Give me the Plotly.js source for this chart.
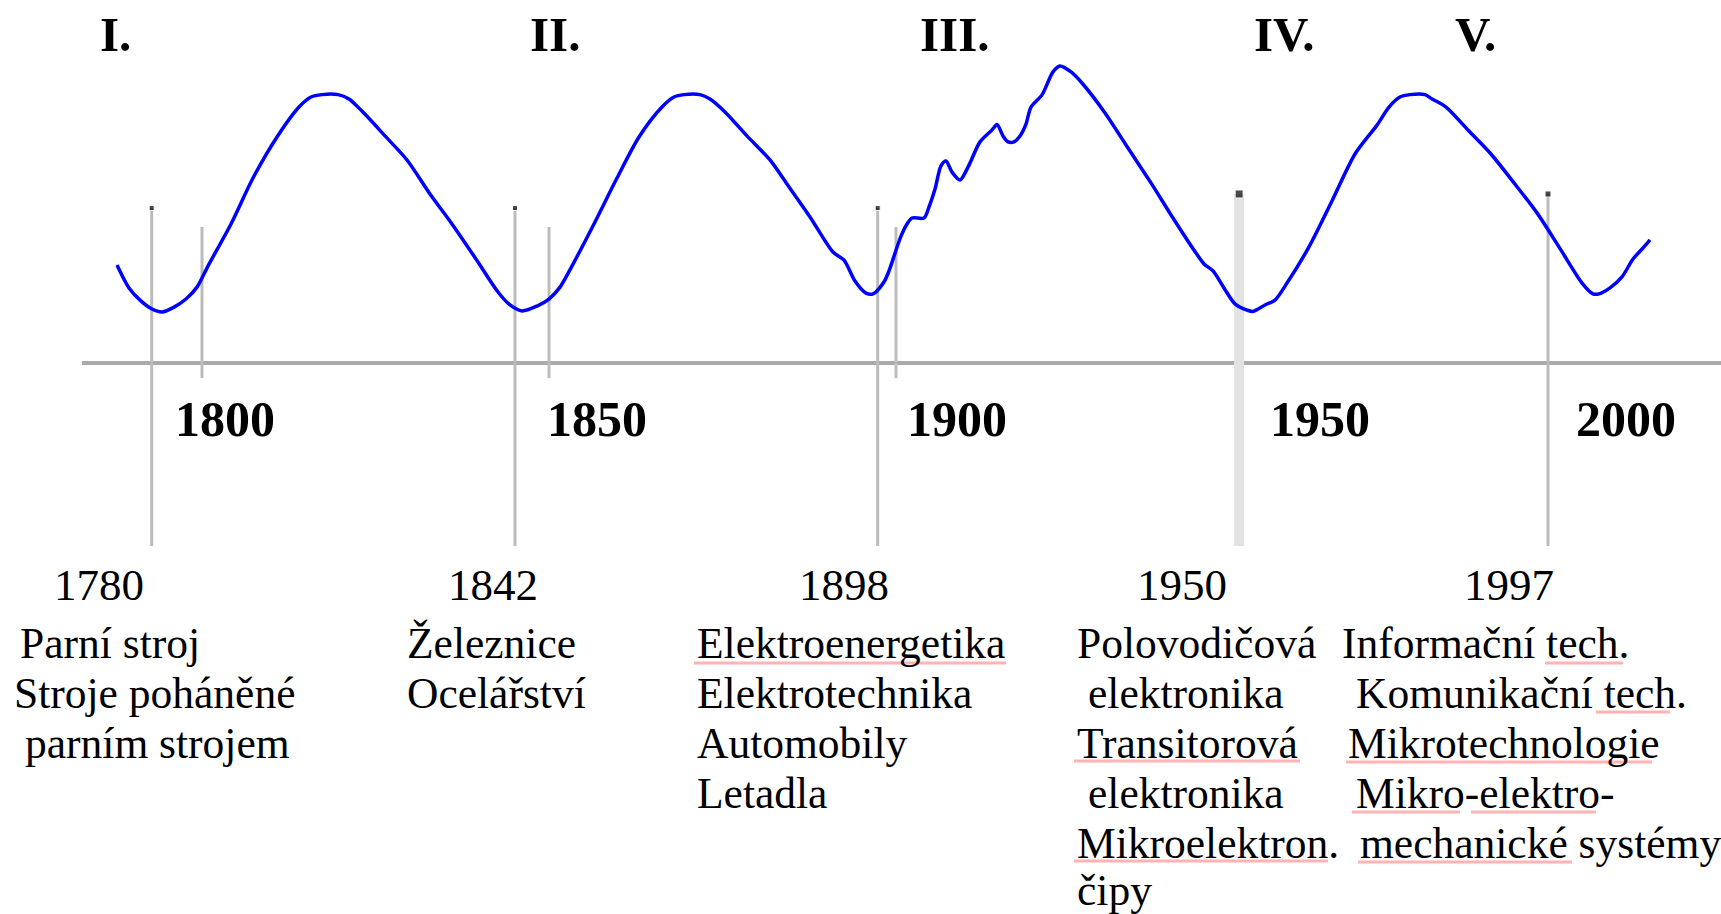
<!DOCTYPE html>
<html><head><meta charset="utf-8">
<script src="https://cdn.plot.ly/plotly-3.0.1.min.js"></script>
<style>html,body{margin:0;padding:0;background:#fff;overflow:hidden}</style>
</head><body><div id="chart" style="width:1721px;height:914px"></div>
<script>
// ---- data (schematic Kondratiev waves; x = year position on the drawing, y = activity level) ----
const waveYear = [1787.75,1789.48,1791.07,1792.80,1794.24,1795.97,1797.69,1799.28,1800.86,1804.18,1807.35,1810.81,1813.98,1815.71,1817.29,1819.60,1821.18,1823.05,1826.37,1829.54,1832.85,1836.02,1839.48,1842.65,1844.38,1846.11,1848.27,1850.00,1851.59,1853.31,1856.48,1859.80,1862.97,1866.28,1868.01,1869.45,1871.76,1873.20,1875.36,1878.53,1881.84,1884.29,1887.61,1890.92,1892.51,1894.09,1895.68,1896.69,1898.27,1898.99,1899.86,1900.72,1901.59,1902.31,1904.03,1904.76,1905.62,1906.48,1907.20,1908.07,1909.22,1910.52,1912.10,1913.83,1914.55,1915.42,1916.14,1917.00,1917.87,1918.73,1919.45,1921.04,1922.62,1923.63,1925.22,1926.80,1930.12,1933.43,1936.74,1939.91,1943.23,1944.38,1945.68,1947.26,1948.85,1950.58,1951.44,1953.17,1954.61,1956.34,1959.51,1962.82,1966.14,1969.31,1971.04,1972.62,1974.06,1976.22,1977.23,1979.25,1982.56,1985.73,1989.05,1992.36,1995.53,1998.85,2000.43,2001.30,2002.88,2004.61,2006.20,2007.78,2008.65];
const waveLevel = [3.63,2.78,2.33,2.00,1.89,2.07,2.37,2.81,3.59,5.15,6.85,8.37,9.48,9.85,9.94,9.94,9.78,9.33,8.41,7.52,6.26,5.15,3.85,2.63,2.15,1.93,2.11,2.37,2.81,3.59,5.15,6.85,8.37,9.48,9.85,9.94,9.94,9.78,9.30,8.41,7.52,6.63,5.41,4.11,3.81,3.04,2.59,2.56,3.00,3.41,4.07,4.70,5.15,5.37,5.37,5.78,6.44,7.30,7.48,7.07,6.78,7.33,8.19,8.63,8.83,8.41,8.19,8.19,8.41,8.85,9.48,9.93,10.78,11.00,10.78,10.37,9.26,7.96,6.67,5.37,4.07,3.67,3.41,2.78,2.19,1.96,1.91,2.15,2.33,2.96,4.30,6.00,7.74,8.81,9.48,9.85,9.94,9.94,9.78,9.48,8.59,7.74,6.67,5.56,4.30,2.96,2.56,2.56,2.78,3.19,3.85,4.30,4.56];

const axisYears = ['1800', '1850', '1900', '1950', '2000'];
const tickMarkYears = [1800, 1850, 1900];
const waveNumerals = ['I.', 'II.', 'III.', 'IV.', 'V.'];
const eventYears = ['1780', '1842', '1898', '1950', '1997'];
const eventLinePos = [1792.75, 1845.10, 1897.36, 1949.44, 1993.95];
const eventLineTop = [5.74, 5.74, 5.74, 6.26, 6.26];
const eventLineBottom = -6.78;
const tickTop = 5.04, tickBottom = -0.56;
const baselineStart = 1782.7;
const eventInnovations = [
  ['Parní stroj', 'Stroje poháněné', 'parním strojem'],
  ['Železnice', 'Ocelářství'],
  ['Elektroenergetika', 'Elektrotechnika', 'Automobily', 'Letadla'],
  ['Polovodičová', 'elektronika', 'Transitorová', 'elektronika', 'Mikroelektron.', 'čipy'],
  ['Informační tech.', 'Komunikační tech.', 'Mikrotechnologie', 'Mikro-elektro-', 'mechanické systémy']
];

// ---- layout helpers (page pixels -> paper fractions) ----
const W = 1721, H = 914;
const PX = x => x / W, PY = y => 1 - y / H;
const axisLabelX = [225, 597, 957, 1320, 1626];
const axisLabelY = 419;
const numeralX = [115, 555, 955, 1284, 1475];
const numeralY = 35;
const eventYearX = [99, 493, 844, 1182, 1509];
const eventYearY = 585;
const lineLeft = [[19,13,24],[406,406],[696,696,696,696],[1076,1087,1076,1087,1076,1076],[1341,1355,1347,1355,1359]];
const rowY = [643, 693, 743, 793, 843, 890];
const underlines = [[694,1006,663],[1074,1300,761],[1074,1328,861],[1545,1623,663],[1596,1670,712],[1346,1652,762],[1352,1460,812],[1471,1596,812],[1358,1572,862]];

const SERIF = '"Liberation Serif", "Times New Roman", serif';
const traces = [];

// short year tick marks
tickMarkYears.forEach(y => traces.push({x:[y,y], y:[tickBottom,tickTop], mode:'lines', line:{color:'#bcbcbc', width:3}, hoverinfo:'skip', showlegend:false}));
// event lines
eventLinePos.forEach((p,i) => {
  const light = i === 3;
  traces.push({x:[p,p], y:[eventLineBottom, eventLineTop[i]], mode:'lines',
    line:{color: light ? '#e2e2e2' : '#bcbcbc', width: light ? 10 : 3}, hoverinfo:'skip', showlegend:false});
});
// wave
traces.push({x: waveYear, y: waveLevel, mode:'lines', line:{color:'#0000ff', width:3.5, shape:'spline', smoothing:0.8}, hoverinfo:'skip', showlegend:false});
// event tips
traces.push({x: eventLinePos, y: eventLineTop, mode:'markers', marker:{symbol:'square', size:[5,5,5,8,6], color:'#000'}, hoverinfo:'skip', showlegend:false});

const annotations = [];
axisYears.forEach((t,i) => annotations.push({text:t, x:PX(axisLabelX[i]), y:PY(axisLabelY), xref:'paper', yref:'paper', xanchor:'center', yanchor:'middle', showarrow:false, font:{family:SERIF, size:50, color:'#000', weight:'bold'}}));
waveNumerals.forEach((t,i) => annotations.push({text:t, x:PX(numeralX[i]), y:PY(numeralY), xref:'paper', yref:'paper', xanchor:'center', yanchor:'middle', showarrow:false, font:{family:SERIF, size:49, color:'#000', weight:'bold'}}));
eventYears.forEach((t,i) => annotations.push({text:t, x:PX(eventYearX[i]), y:PY(eventYearY), xref:'paper', yref:'paper', xanchor:'center', yanchor:'middle', showarrow:false, font:{family:SERIF, size:45, color:'#000'}}));
eventInnovations.forEach((lines,i) => lines.forEach((t,j) => annotations.push({text:t, x:PX(lineLeft[i][j]), y:PY(rowY[j]), xref:'paper', yref:'paper', xanchor:'left', yanchor:'middle', showarrow:false, borderpad:0, font:{family:SERIF, size:43.5, color:'#000'}})));

const shapes = [
  {type:'line', xref:'x', yref:'y', x0:baselineStart, x1:2025, y0:0, y1:0, line:{color:'#aaaaaa', width:4}, layer:'below'}
];
underlines.forEach(u => shapes.push({type:'line', xref:'paper', yref:'paper', x0:PX(u[0]), x1:PX(u[1]), y0:PY(u[2]), y1:PY(u[2]), line:{color:'#ffb3b3', width:3}}));

const layout = {
  width: W, height: H, autosize:false,
  margin:{l:0, r:0, t:0, b:0, pad:0},
  paper_bgcolor:'#fff', plot_bgcolor:'#fff',
  xaxis:{range:[1800 - 202/6.94, 1800 + 1519/6.94], visible:false, fixedrange:true},
  yaxis:{range:[(363-914)/27, 363/27], visible:false, fixedrange:true},
  showlegend:false, annotations, shapes
};
Plotly.newPlot('chart', traces, layout, {staticPlot:true, displayModeBar:false});
</script></body></html>
